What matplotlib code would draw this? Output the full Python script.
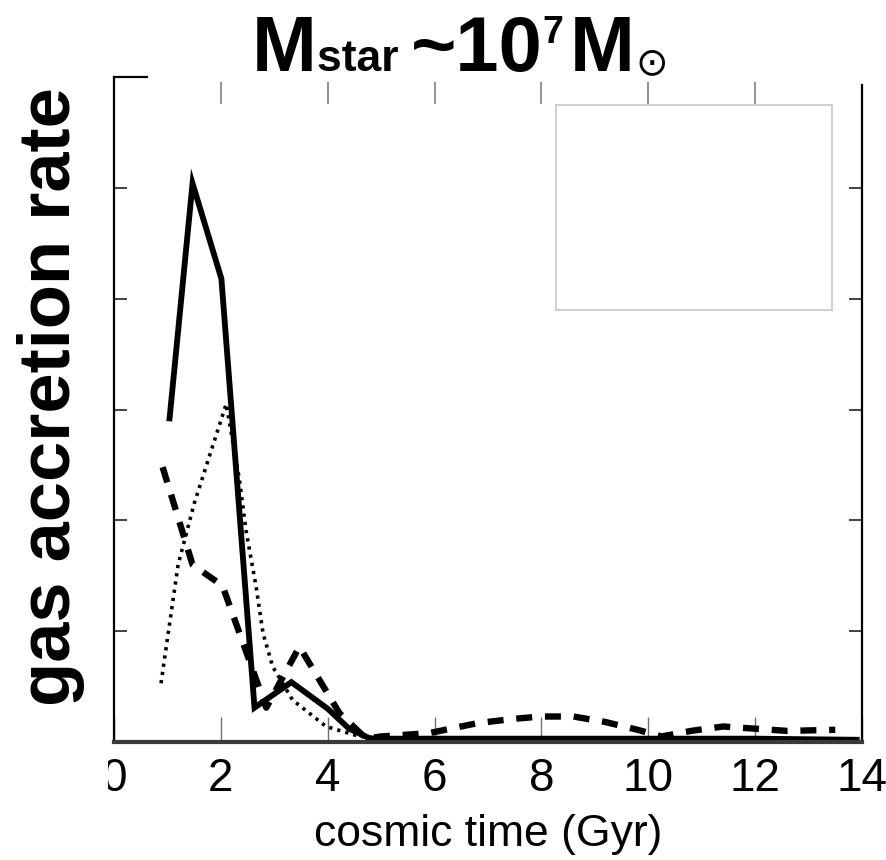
import matplotlib
matplotlib.use('Agg')
import matplotlib.pyplot as plt
from matplotlib.transforms import Bbox, TransformedBbox

plt.rcParams['font.family'] = ['Liberation Sans', 'DejaVu Sans']

# data (cosmic time in Gyr, accretion rate in arbitrary units)
solid_t = [1.04, 1.47, 2.01, 2.63, 3.32, 4.0, 4.4, 4.8, 6.0, 8.0, 10.0, 12.0, 13.9]
solid_y = [2.92, 5.04, 4.18, 0.31, 0.54, 0.30, 0.12, 0.03, 0.03, 0.03, 0.03, 0.03, 0.02]

dot_t = [0.88, 1.2, 1.5, 1.8, 2.1, 2.35, 2.47, 2.66, 2.79, 2.97, 3.34, 3.97, 4.6, 5.5, 8.0, 10.0, 12.0, 13.9]
dot_y = [0.53, 1.6, 2.15, 2.6, 3.05, 2.36, 1.91, 1.4, 0.98, 0.68, 0.38, 0.14, 0.05, 0.02, 0.02, 0.02, 0.02, 0.02]

dash_t = [0.91, 1.47, 2.03, 2.85, 3.47, 4.22, 4.72, 5.0, 5.9, 6.8, 7.5, 8.0, 8.6, 9.2, 9.8, 10.25,
          10.8, 11.4, 12.0, 12.6, 13.5]
dash_y = [2.48, 1.6, 1.41, 0.31, 0.86, 0.26, 0.03, 0.05, 0.08, 0.17, 0.21, 0.23, 0.23, 0.18, 0.11, 0.05,
          0.10, 0.14, 0.12, 0.10, 0.11]

xticks = [0, 2, 4, 6, 8, 10, 12, 14]
yticks = [1, 2, 3, 4, 5]

W, H = 886, 860
fig = plt.figure(figsize=(W / 100, H / 100), dpi=100)
ax = fig.add_axes([114 / W, 118 / H, 748 / W, 665 / H])

ax.plot(solid_t, solid_y, color='black', lw=4.2, solid_joinstyle='miter')
ax.plot(dot_t, dot_y, color='black', lw=2.6, linestyle=(0, (0.9, 1.4)))
ax.plot(dash_t, dash_y, color='black', lw=4.6, linestyle=(0, (2.5, 2.0)))

ax.set_xlim(0, 14)
ax.set_ylim(0, 6)
ax.set_xticks(xticks)
ax.set_xticklabels([str(v) for v in xticks])
ax.set_yticks(yticks)
ax.set_yticklabels([])

ax.spines['left'].set_linewidth(1.6)
ax.spines['right'].set_linewidth(1.6)
ax.spines['right'].set_bounds(0, 5.93)
ax.spines['bottom'].set_linewidth(3.0)
ax.spines['bottom'].set_color('#3a3a3a')
ax.spines['top'].set_linewidth(1.6)
ax.spines['top'].set_bounds(0, 0.62)

ax.tick_params(axis='x', direction='in', length=18, width=1.0, color='#707070',
               labelsize=33, pad=10.5, top=False)
ax.tick_params(axis='y', direction='in', length=9.5, width=1.2, color='#222222',
               left=True, right=True)

# top ticks sit a little below the (missing) top frame
sec = ax.secondary_xaxis(1 - 5 / 665)
sec.set_xticks(xticks[1:-1])
sec.tick_params(direction='in', length=15.5, width=1.2, color='#808080', labeltop=False)
sec.spines['top'].set_visible(False)

ax.set_xlabel('cosmic time (Gyr)', fontsize=32, labelpad=10)

# empty inset box
ins = ax.inset_axes([442 / 748, 432 / 665, 276 / 748, 205 / 665])
ins.set_xticks([])
ins.set_yticks([])
for s in ins.spines.values():
    s.set_color('#c4c4c4')
    s.set_linewidth(1.1)

fig.text(70 / W, 1 - 397 / H, 'gas accretion rate', rotation=90, rotation_mode='anchor',
         ha='center', va='baseline', fontsize=52, fontweight='bold')

# title built from pieces laid out one after another
renderer = fig.canvas.get_renderer()
pieces = [
    # text, baseline (px from top), size, weight, family, extra gap before
    ('M', 71, 56, 'bold', 'Liberation Sans', 0),
    ('star ', 71, 32, 'bold', 'Liberation Sans', 0),
    ('~10', 71, 56, 'bold', 'Liberation Sans', 0),
    ('7', 43, 27, 'bold', 'Liberation Sans', 0),
    ('M', 71, 56, 'bold', 'Liberation Sans', 6),
    ('\u2299', 74, 28, 'normal', 'DejaVu Sans', 1),
]
xpos = 252
for s, py, size, wt, fam, gap in pieces:
    t = fig.text((xpos + gap) / W, 1 - py / H, s, fontsize=size, fontweight=wt, family=fam,
                 ha='left', va='baseline')
    xpos = t.get_window_extent(renderer).x1

# the "0" label is cut at its left side in the original
lab0 = ax.xaxis.get_major_ticks()[0].label1
lab0.set_clip_on(True)
lab0.set_clip_box(TransformedBbox(Bbox([[108 / W, 0], [1, 1]]), fig.transFigure))

fig.savefig('out.png', dpi=100)
